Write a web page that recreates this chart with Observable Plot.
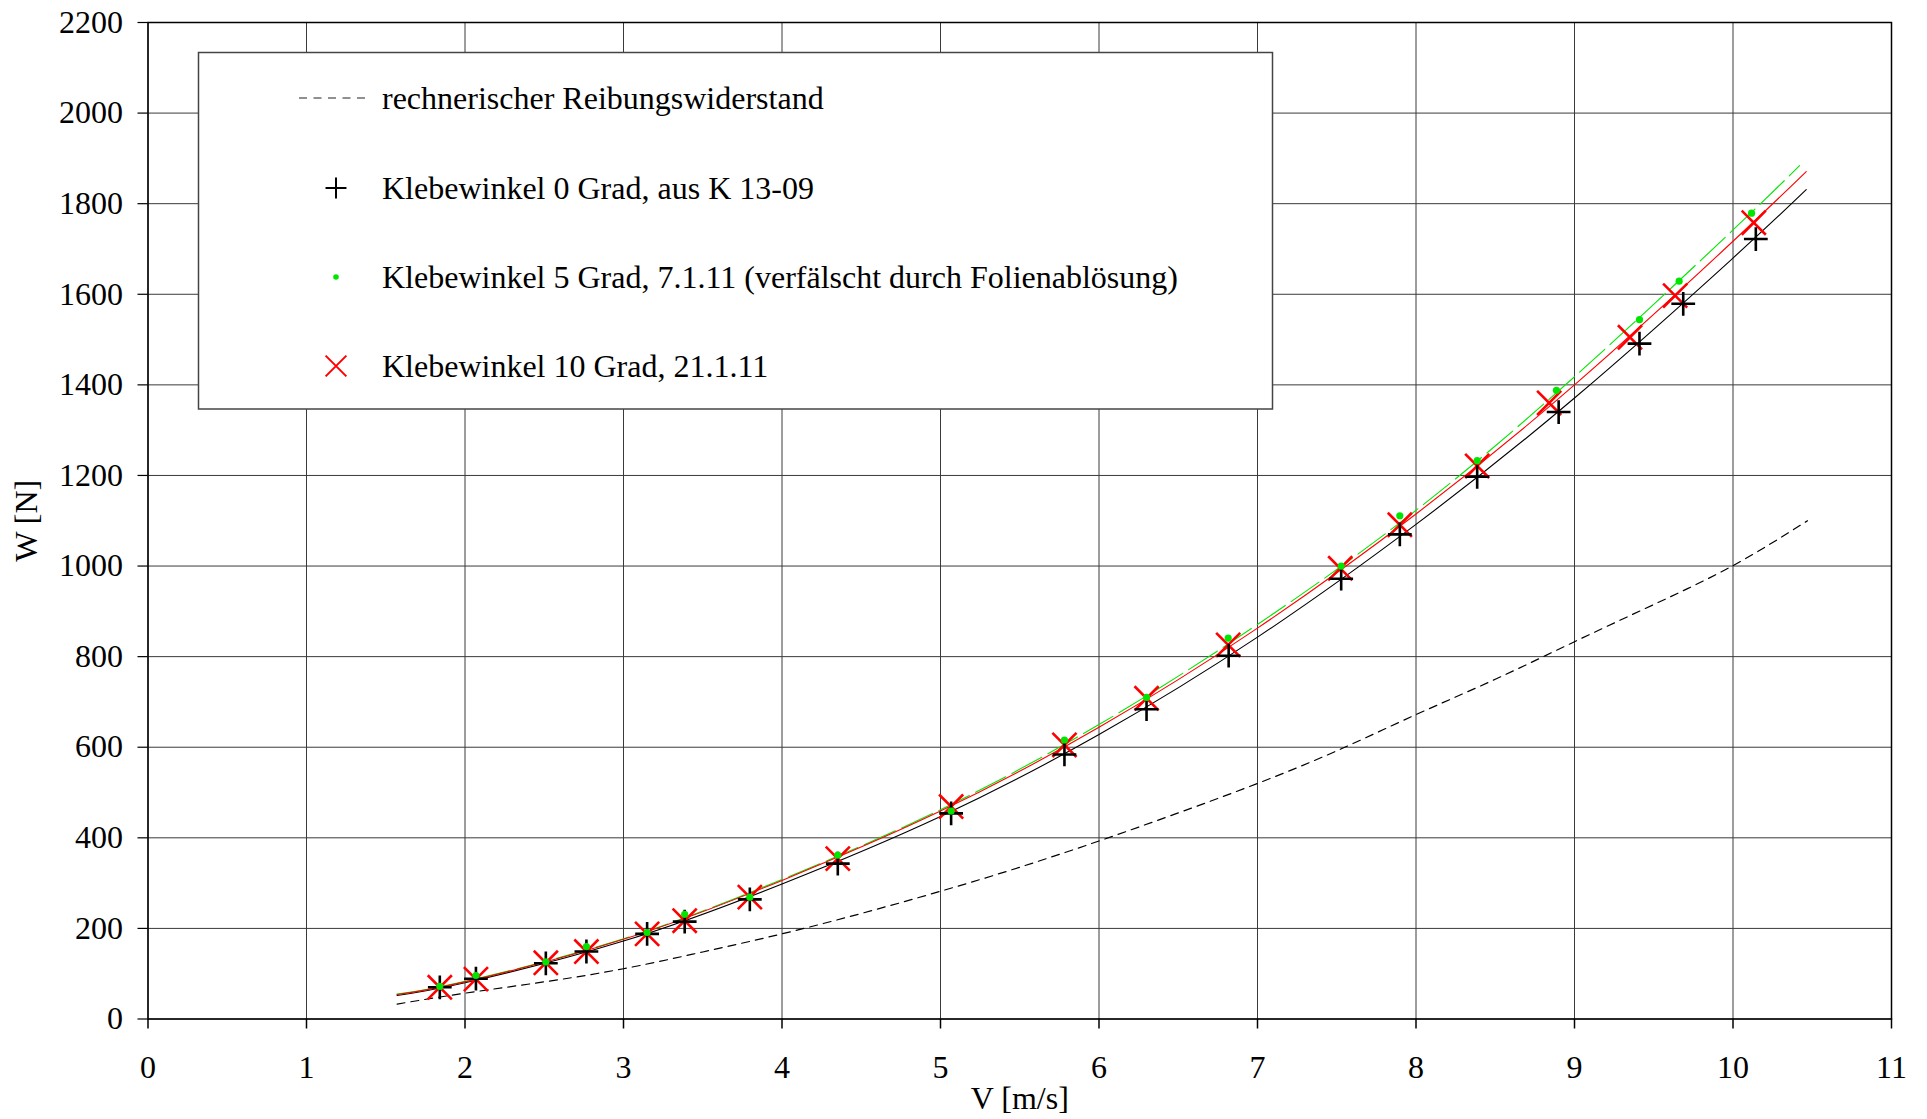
<!DOCTYPE html>
<html>
<head>
<meta charset="utf-8">
<script src="https://cdn.jsdelivr.net/npm/d3@7"></script>
<script src="https://cdn.jsdelivr.net/npm/@observablehq/plot@0.6"></script>
<style>
html, body { margin: 0; padding: 0; background: #fff; }
#wrap { position: relative; width: 1927px; height: 1119px; font-family: "Liberation Serif", "Times New Roman", serif; }
#wrap > svg { position: absolute; left: 0; top: 0; }
</style>
</head>
<body>
<div id="wrap"></div>
<script>
// ---- tick labels ----
const xTicks = [0, 1, 2, 3, 4, 5, 6, 7, 8, 9, 10, 11];
const yTicks = [0, 200, 400, 600, 800, 1000, 1200, 1400, 1600, 1800, 2000, 2200];

// ---- measured points ----
// Klebewinkel 0 Grad, aus K 13-09 (black +)
const v0 = [1.841, 2.069, 2.510, 2.766, 3.149, 3.386, 3.797, 4.352, 5.067, 5.782, 6.300, 6.818, 7.528, 7.898, 8.386, 8.900, 9.410, 9.686, 10.144];
const w0 = [70, 89, 123, 149, 188, 215, 264, 343, 454, 584, 684, 802, 972, 1070, 1197, 1340, 1491, 1579, 1722];

// Klebewinkel 5 Grad, 7.1.11 (green dots)
const v5 = [1.841, 2.069, 2.510, 2.766, 3.149, 3.386, 3.797, 4.352, 5.067, 5.782, 6.300, 6.815, 7.528, 7.898, 8.386, 8.886, 9.410, 9.660, 10.117];
const w5 = [72, 96, 126, 160, 191, 231, 269, 362, 459, 616, 710, 841, 1000, 1111, 1233, 1388, 1544, 1629, 1779];

// Klebewinkel 10 Grad, 21.1.11 (red x)
const v10 = [1.841, 2.069, 2.510, 2.766, 3.149, 3.386, 3.797, 4.352, 5.067, 5.782, 6.300, 6.815, 7.522, 7.898, 8.386, 8.840, 9.350, 9.635, 10.131];
const w10 = [70, 88, 124, 149, 188, 217, 269, 354, 469, 605, 708, 826, 995, 1091, 1221, 1360, 1505, 1597, 1758];

// ---- trend lines ----
const fitV = [1.571, 2, 3, 4, 5, 6, 7, 8, 9, 10, 10.462];
const fitW0 = [52, 80, 172, 298, 447, 628, 843, 1092, 1371, 1680, 1831];
const fitW10 = [54, 82, 176, 306, 459, 644, 863, 1115, 1400, 1717, 1871];
const fitV5 = [1.571, 2, 3, 4, 5, 6, 7, 8, 9, 10, 10.42];
const fitW5 = [55, 83, 177, 308, 462, 650, 871, 1123, 1418, 1742, 1884];

// rechnerischer Reibungswiderstand (dashed)
const frictionV = [1.572, 2, 2.5, 3, 3.5, 4, 4.5, 5, 5.5, 6, 6.5, 7, 7.5, 8, 8.5, 9, 9.5, 10, 10.47];
const frictionW = [33, 57, 82, 111, 148, 188, 233, 282, 335, 393, 455, 520, 592, 672, 750, 833, 915, 1001, 1100];

// ---- legend entries ----
const legendLabels = [
  "rechnerischer Reibungswiderstand",
  "Klebewinkel 0 Grad, aus K 13-09",
  "Klebewinkel 5 Grad, 7.1.11 (verfälscht durch Folienablösung)",
  "Klebewinkel 10 Grad, 21.1.11"
];

const GREEN = "#00e600";
const FONT = "'Liberation Serif', 'Times New Roman', serif";
const pts = (xs, ys) => xs.map((x, i) => ({x, y: ys[i]}));

const chart = Plot.plot({
  width: 1927,
  height: 1119,
  marginLeft: 147.5,
  marginRight: 36,
  marginTop: 22,
  marginBottom: 100.5,
  style: {fontFamily: FONT, fontSize: "32px", background: "white", color: "black", overflow: "visible"},
  x: {domain: [0, 11]},
  y: {domain: [0, 2200]},
  marks: [
    Plot.gridX(xTicks, {stroke: "#3a3a3a", strokeOpacity: 1, strokeWidth: 1}),
    Plot.gridY(yTicks, {stroke: "#3a3a3a", strokeOpacity: 1, strokeWidth: 1}),
    Plot.line(pts(frictionV, frictionW), {x: "x", y: "y", stroke: "black", strokeWidth: 1.2, strokeDasharray: "8,6", curve: "natural"}),
    Plot.line(pts(fitV, fitW0), {x: "x", y: "y", stroke: "black", strokeWidth: 1.1, curve: "natural"}),
    Plot.line(pts(fitV5, fitW5), {x: "x", y: "y", stroke: GREEN, strokeWidth: 1.1, strokeDasharray: "34,7", curve: "natural"}),
    Plot.line(pts(fitV, fitW10), {x: "x", y: "y", stroke: "red", strokeWidth: 1.1, curve: "natural"}),
    Plot.dot(pts(v10, w10), {x: "x", y: "y", symbol: "times", r: 11, stroke: "red", strokeWidth: 2.6}),
    Plot.dot(pts(v0, w0), {x: "x", y: "y", symbol: "plus", r: 7.7, stroke: "black", strokeWidth: 2.6}),
    Plot.dot(pts(v5, w5), {x: "x", y: "y", r: 3.6, fill: GREEN, stroke: null}),
    Plot.frame({stroke: "black", strokeWidth: 1.5}),
    Plot.axisX({ticks: xTicks, tickSize: 10, tickPadding: 26, fontSize: 32, fontFamily: FONT, tickFormat: d => String(d),
      label: "V [m/s]", labelAnchor: "center", labelArrow: "none", labelOffset: 90, stroke: "black", strokeWidth: 1.5}),
    Plot.axisY({ticks: yTicks, tickSize: 10, tickPadding: 15, fontSize: 32, fontFamily: FONT, tickFormat: d => String(d),
      label: "W [N]", labelAnchor: "center", labelArrow: "none", labelOffset: 134, stroke: "black", strokeWidth: 1.2})
  ]
});

const wrap = document.getElementById("wrap");
wrap.appendChild(chart);

// ---- legend overlay (inside the plot area, like the original) ----
const lg = d3.select(wrap).append("svg")
  .attr("width", 1927).attr("height", 1119)
  .style("font-family", FONT)
  .style("font-size", "32px")
  .style("pointer-events", "none");

lg.append("rect").attr("x", 198.5).attr("y", 52.5).attr("width", 1074).attr("height", 356.5)
  .attr("fill", "white").attr("stroke", "#444").attr("stroke-width", 1.5);

const rowY = [98, 188, 277, 366];
const symX = 336;
// dashed sample
lg.append("line").attr("x1", 299).attr("x2", 369).attr("y1", rowY[0]).attr("y2", rowY[0])
  .attr("stroke", "#222").attr("stroke-width", 1.1).attr("stroke-dasharray", "8,6.5");
// plus
lg.append("path").attr("transform", `translate(${symX},${rowY[1]})`)
  .attr("d", d3.symbol(d3.symbolPlus, 145)()).attr("fill", "none").attr("stroke", "black").attr("stroke-width", 2);
// green dot
lg.append("circle").attr("cx", symX).attr("cy", rowY[2]).attr("r", 2.8).attr("fill", GREEN);
// red x
lg.append("path").attr("transform", `translate(${symX},${rowY[3]})`)
  .attr("d", d3.symbol(d3.symbolTimes, Math.PI * 9.5 * 9.5)()).attr("fill", "none").attr("stroke", "red").attr("stroke-width", 2);

lg.selectAll("text.lab").data(legendLabels).join("text").attr("class", "lab")
  .attr("x", 382).attr("y", (d, i) => rowY[i] + 11).attr("fill", "black").text(d => d);
</script>
</body>
</html>
